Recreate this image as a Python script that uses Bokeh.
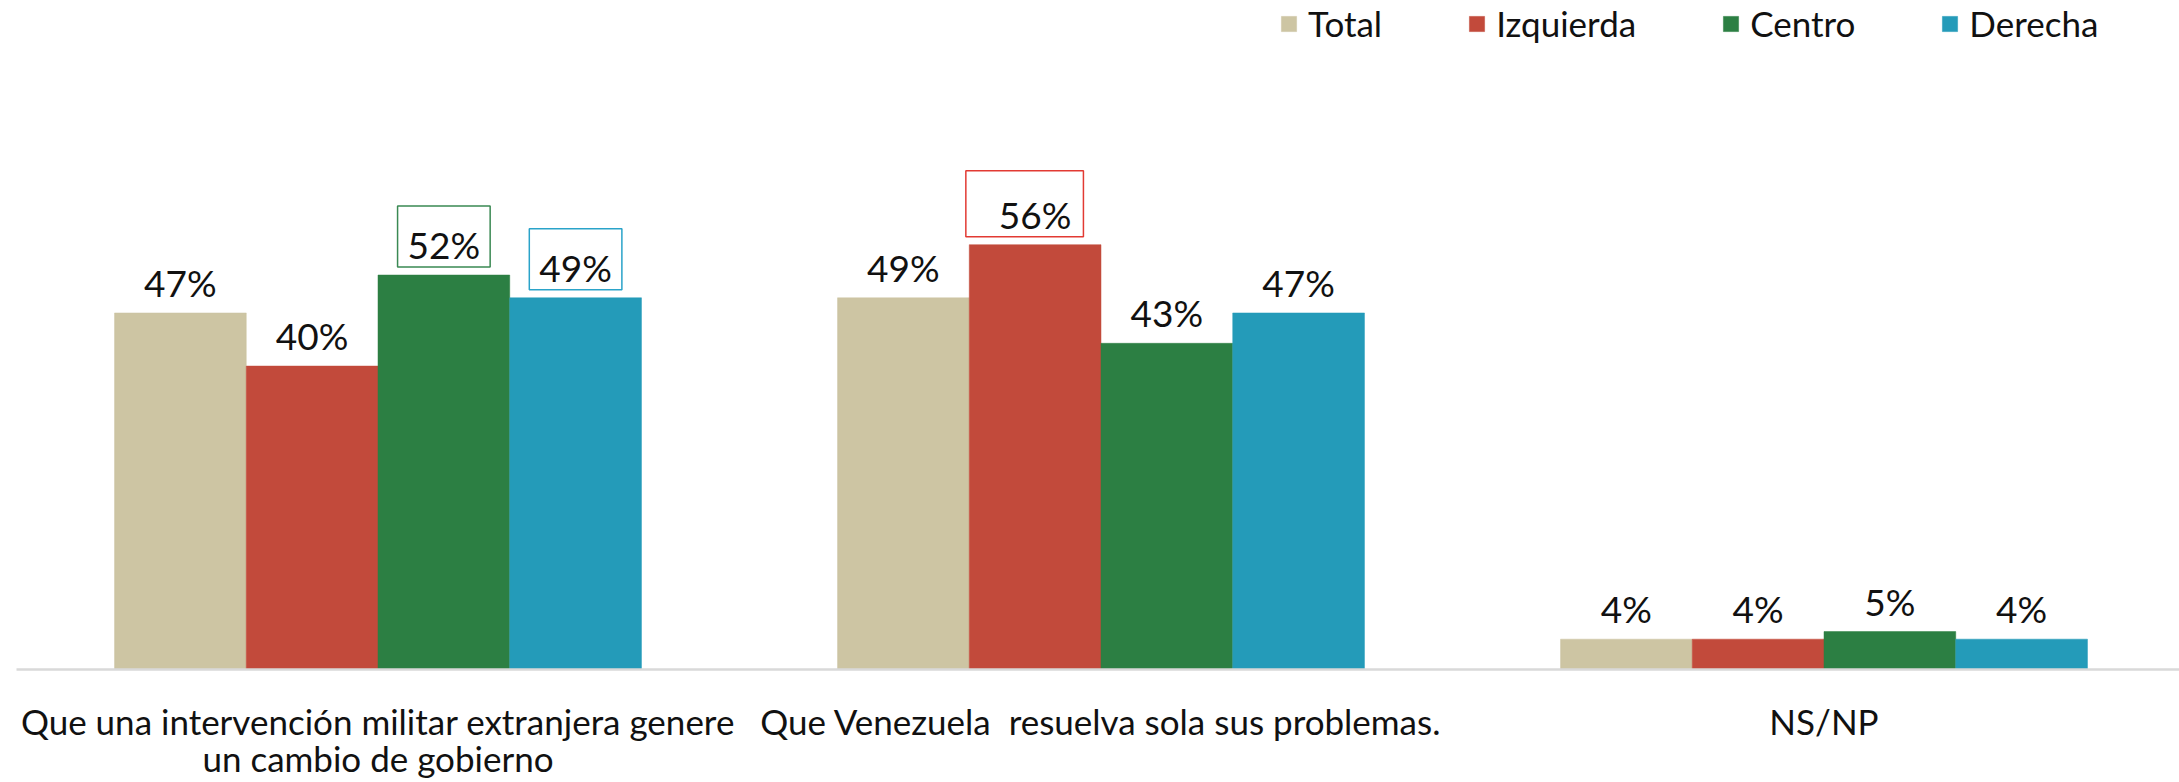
from bokeh.plotting import figure
from bokeh.models import ColumnDataSource, LabelSet, Label, FixedTicker, Range1d
from bokeh.core.properties import value
from bokeh.embed import file_html
from bokeh.resources import INLINE

# ---- data ----
categories = [
    "Que una intervención militar extranjera genere\nun cambio de gobierno",
    "Que Venezuela\u00a0 resuelva sola sus problemas.",
    "NS/NP",
]
series = ["Total", "Izquierda", "Centro", "Derecha"]
total = [47, 49, 4]
izquierda = [40, 56, 4]
centro = [52, 43, 5]
derecha = [49, 47, 4]
colors = ["#CDC5A3", "#C24A3B", "#2C7F43", "#249BB9"]
# labels shown inside a frame: (series, category index)
highlights = [("Centro", 0), ("Derecha", 0), ("Izquierda", 1)]
box_colors = {"Izquierda": "#E23A33", "Centro": "#3A8953", "Derecha": "#2AA3C9"}

values = {"Total": total, "Izquierda": izquierda, "Centro": centro, "Derecha": derecha}

FONT = "Lato"
BAR_W = 0.1822
offsets = [(k - 1.5) * BAR_W for k in range(len(series))]
xs = list(range(len(categories)))

p = figure(
    width=2179, height=782,
    x_range=Range1d(-0.5, 2.4917), y_range=Range1d(0, 88.19),
    output_backend="svg", toolbar_location=None,
    min_border_left=16, min_border_right=0, min_border_top=0, min_border_bottom=110,
)
p.outline_line_color = None
p.xgrid.visible = False
p.ygrid.visible = False
p.yaxis.visible = False
p.background_fill_color = "white"
p.border_fill_color = "white"

for k, name in enumerate(series):
    vals = values[name]
    src = ColumnDataSource(dict(x=[x + offsets[k] for x in xs], top=vals))
    p.vbar(x="x", top="top", width=BAR_W, source=src, fill_color=colors[k],
           line_color=colors[k], line_width=0.5, legend_label=name)

    hl = [i for (s, i) in highlights if s == name]
    plain = [i for i in xs if i not in hl]
    lsrc = ColumnDataSource(dict(
        x=[xs[i] + offsets[k] for i in plain],
        y=[vals[i] for i in plain],
        label=[f"{vals[i]}%" for i in plain],
    ))
    p.add_layout(LabelSet(x="x", y="y", text="label", source=lsrc, y_offset=16,
                          text_align="center", text_baseline="alphabetic",
                          text_font=value(FONT), text_font_size="37px", text_color="#111111"))
    for i in hl:
        if name == "Izquierda":
            pad = dict(left=33, right=12, top=21, bottom=0)
            xoff = -10.5
        else:
            pad = dict(left=10, right=10, top=16, bottom=0)
            xoff = 0
        p.add_layout(Label(x=xs[i] + offsets[k], y=vals[i], text=f"{vals[i]}%",
                           x_offset=xoff, y_offset=8,
                           text_align="center", text_baseline="bottom",
                           text_font=FONT, text_font_size="37px", text_color="#111111",
                           border_line_color=box_colors[name], border_line_width=1.5,
                           padding=pad))

ax = p.xaxis[0]
ax.ticker = FixedTicker(ticks=xs)
ax.major_label_overrides = {i: categories[i] for i in xs}
ax.axis_line_color = "#D9D9D9"
ax.axis_line_width = 2.5
ax.major_tick_line_color = None
ax.minor_tick_line_color = None
ax.major_tick_out = 0
ax.major_label_standoff = 30
ax.major_label_text_font = FONT
ax.major_label_text_font_size = "35px"
ax.major_label_text_color = "#111111"
ax.major_label_text_line_height = 0.9

lg = p.legend[0]
lg.orientation = "horizontal"
lg.location = (1263, 625)
lg.padding = 0
lg.margin = 0
lg.spacing = 85
lg.label_standoff = 10
lg.glyph_width = 19
lg.glyph_height = 19
lg.label_height = 40
lg.label_text_font = FONT
lg.label_text_font_size = "35px"
lg.label_text_color = "#111111"
lg.border_line_color = None
lg.background_fill_alpha = 0

open("out.html", "w").write(file_html(p, INLINE))
